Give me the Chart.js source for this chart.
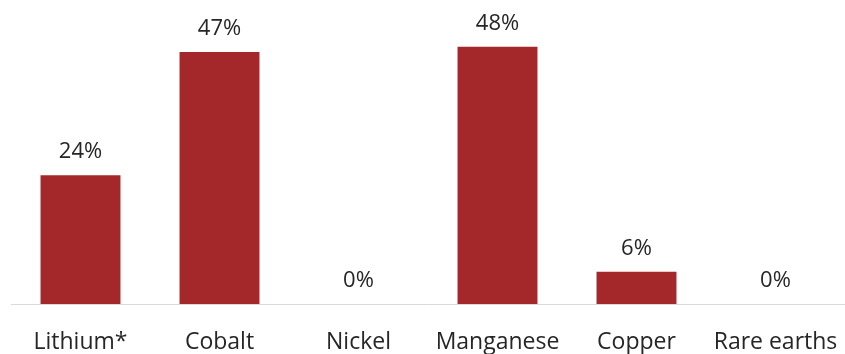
<!DOCTYPE html>
<html>
<head>
<meta charset="utf-8">
<style>
  html, body { margin: 0; padding: 0; background: #ffffff; }
  #wrap { width: 845px; height: 354px; }
</style>
<script src="https://cdn.jsdelivr.net/npm/chart.js@4/dist/chart.umd.min.js"></script>
</head>
<body>
<div id="wrap"><canvas id="chart" width="845" height="354"></canvas></div>
<script>
// Share of each mineral, in percent
const categories = ['Lithium*', 'Cobalt', 'Nickel', 'Manganese', 'Copper', 'Rare earths'];
const shares = [24, 47, 0, 48, 6, 0];
const valueLabels = ['24%', '47%', '0%', '48%', '6%', '0%'];

const FONT = "'Open Sans', 'Noto Sans', sans-serif";
const TEXT = '#262626';

// Writes the percentage above each bar
const valueLabelPlugin = {
  id: 'valueLabels',
  afterDatasetsDraw(chart) {
    const ctx = chart.ctx;
    const meta = chart.getDatasetMeta(0);
    ctx.save();
    ctx.font = '22px ' + FONT;
    ctx.fillStyle = TEXT;
    ctx.textAlign = 'center';
    ctx.textBaseline = 'alphabetic';
    meta.data.forEach((bar, i) => {
      ctx.fillText(valueLabels[i], bar.x, bar.y - 17);
    });
    ctx.restore();
  }
};

new Chart(document.getElementById('chart'), {
  type: 'bar',
  data: {
    labels: categories,
    datasets: [{
      data: shares,
      backgroundColor: '#A4282A',
      borderWidth: 0,
      barPercentage: 0.575,
      categoryPercentage: 1
    }]
  },
  options: {
    responsive: false,
    animation: false,
    layout: { padding: { left: 11, right: -3, top: 36, bottom: 0 } },
    plugins: { legend: { display: false }, tooltip: { enabled: false } },
    scales: {
      x: {
        grid: { display: false },
        border: { display: true, color: '#d9d9d9', width: 1 },
        ticks: { color: TEXT, font: { family: FONT, size: 23 }, padding: 17, maxRotation: 0, autoSkip: false },
        afterFit(scale) {
          scale.height = 50;
          scale.paddingLeft = 0;
          scale.paddingRight = 0;
        }
      },
      y: {
        display: false,
        min: 0,
        max: 50
      }
    }
  },
  plugins: [valueLabelPlugin]
});
</script>
</body>
</html>
